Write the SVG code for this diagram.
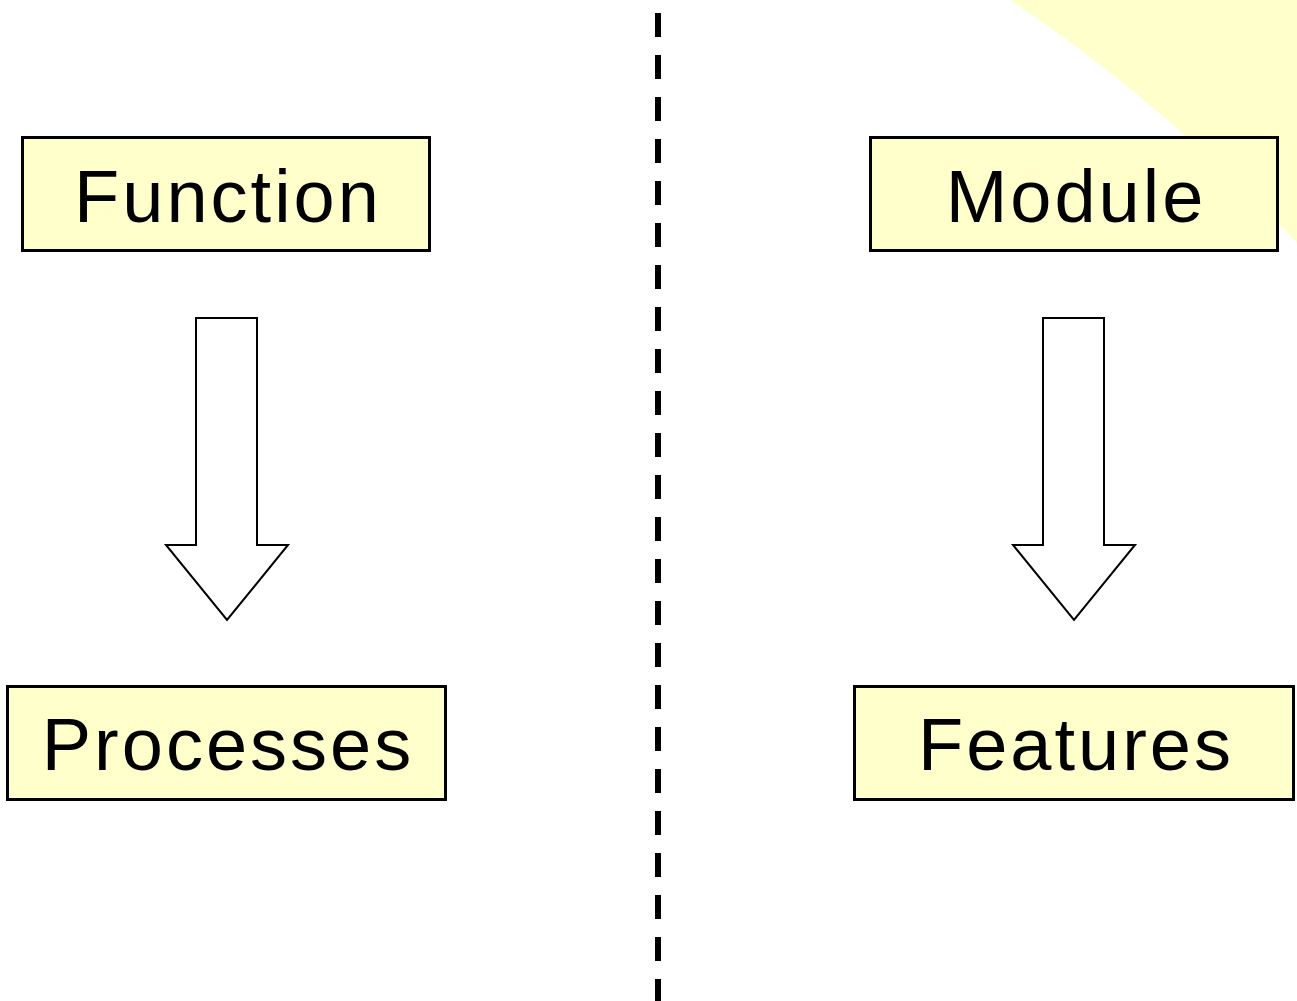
<svg xmlns="http://www.w3.org/2000/svg" width="1297" height="1001" viewBox="0 0 1297 1001">
  <style>
    .box { fill: #FFFFCC; stroke: #000; stroke-width: 3; }
    .label { font-family: "Liberation Sans", Arial, sans-serif; font-size: 74px; letter-spacing: 3px; fill: #000; text-anchor: middle; }
    .arrow { fill: #fff; stroke: #000; stroke-width: 2; stroke-linejoin: miter; }
  </style>
  <!-- pale background wedge in the top-right corner -->
  <path d="M1010,0 L1297,0 L1297,243 Q1160,100 1010,0 Z" fill="#FFFFCC"/>
  <!-- dashed divider -->
  <line x1="658" y1="13" x2="658" y2="1001" stroke="#000" stroke-width="6" stroke-dasharray="24 18"/>
  <g id="function">
    <rect class="box" x="22.5" y="137.5" width="407" height="113"/>
    <text class="label" x="228" y="222">Function</text>
  </g>
  <g id="module">
    <rect class="box" x="870.5" y="137.5" width="407" height="113"/>
    <text class="label" x="1076" y="222">Module</text>
  </g>
  <g id="processes">
    <rect class="box" x="7.5" y="686.5" width="438" height="113"/>
    <text class="label" x="228" y="770">Processes</text>
  </g>
  <g id="features">
    <rect class="box" x="854.5" y="686.5" width="439" height="113"/>
    <text class="label" x="1076" y="770">Features</text>
  </g>
  <g id="connectors">
    <polygon class="arrow" points="196,318 257,318 257,545 288,545 227,620 166,545 196,545"/>
    <polygon class="arrow" points="1043,318 1104,318 1104,545 1135,545 1074,620 1013,545 1043,545"/>
  </g>
</svg>
